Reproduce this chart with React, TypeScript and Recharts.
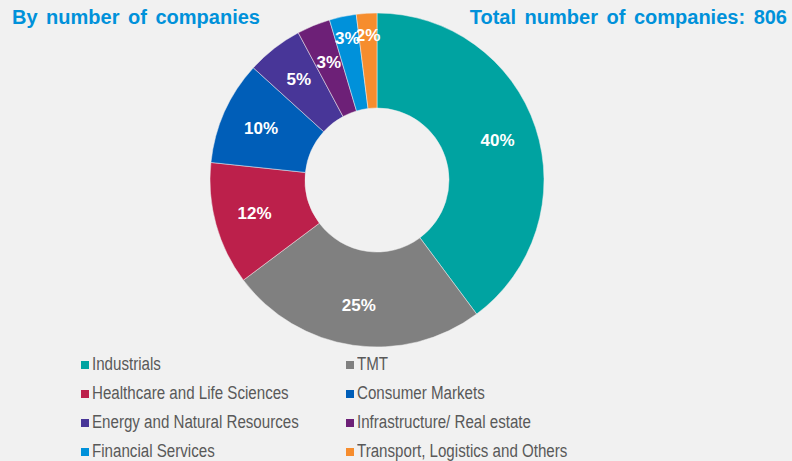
import React from 'react';
import { PieChart, Pie, Cell, Legend } from 'recharts';

const sectors = [
    'Industrials',
    'TMT',
    'Healthcare and Life Sciences',
    'Consumer Markets',
    'Energy and Natural Resources',
    'Infrastructure/ Real estate',
    'Financial Services',
    'Transport, Logistics and Others',
];
const companies = [321, 201, 96, 81, 44, 26, 21, 16];
const colors = ['#00A3A1', '#808080', '#BC204B', '#005EB8', '#483698', '#6D2077', '#0091DA', '#F68D2E'];

const data = sectors.map((name, i) => ({ name, value: companies[i] }));
const total = companies.reduce((a, b) => a + b, 0);

const RAD = Math.PI / 180;
const FONT = '"Liberation Sans", Arial, sans-serif';

const renderLabel = (props: any) => {
    const { cx, cy, midAngle, percent } = props;
    // the thinnest slices push their labels further out, as in the source
    const r = percent < 0.03 ? 145 : 127;
    const x = cx + r * Math.cos(-midAngle * RAD);
    const y = cy + r * Math.sin(-midAngle * RAD);
    return (
        <text x={x} y={y} fill="#fff" fontSize={17} fontWeight="bold" fontFamily={FONT}
            textAnchor="middle" dominantBaseline="central">
            {Math.round(percent * 100)}%
        </text>
    );
};

// legend text in the source is a condensed Arial, so squeeze it horizontally
const LegendGrid = () => (
    <div style={{ display: 'grid', gridTemplateColumns: '265px 300px', fontFamily: FONT }}>
        {data.map((d, i) => (
            <div key={d.name} style={{ display: 'flex', alignItems: 'center', height: 29, color: '#595959', fontSize: 18, whiteSpace: 'nowrap' }}>
                <span style={{ width: 8, height: 8, background: colors[i], marginRight: 3, display: 'inline-block', flexShrink: 0 }} />
                <span style={{ display: 'inline-block', transform: 'scaleX(0.84)', transformOrigin: 'left center' }}>{d.name}</span>
            </div>
        ))}
    </div>
);

export default function App() {
    return (
        <div style={{ position: 'absolute', left: 0, top: 0, width: 792, height: 461, background: '#f1f1f1', overflow: 'hidden' }}>
            <div style={{ position: 'absolute', left: 12, top: 6, color: '#0091DA', fontFamily: FONT, fontWeight: 'bold', fontSize: 20, wordSpacing: 3 }}>
                By number of companies
            </div>
            <div style={{ position: 'absolute', right: 5, top: 6, color: '#0091DA', fontFamily: FONT, fontWeight: 'bold', fontSize: 20, wordSpacing: 3 }}>
                Total number of companies: {total}
            </div>
            <PieChart width={792} height={461} margin={{ top: 0, right: 0, bottom: 0, left: 0 }}>
                <Pie
                    data={data}
                    dataKey="value"
                    nameKey="name"
                    cx={377}
                    cy={180}
                    innerRadius={72}
                    outerRadius={167}
                    startAngle={90}
                    endAngle={-270}
                    label={renderLabel}
                    labelLine={false}
                    stroke="#f1f1f1"
                    strokeWidth={0.5}
                    isAnimationActive={false}
                >
                    {data.map((d, i) => <Cell key={d.name} fill={colors[i]} />)}
                </Pie>
                <Legend content={() => <LegendGrid />} wrapperStyle={{ left: 81, top: 350, width: 700 }} />
            </PieChart>
        </div>
    );
}
